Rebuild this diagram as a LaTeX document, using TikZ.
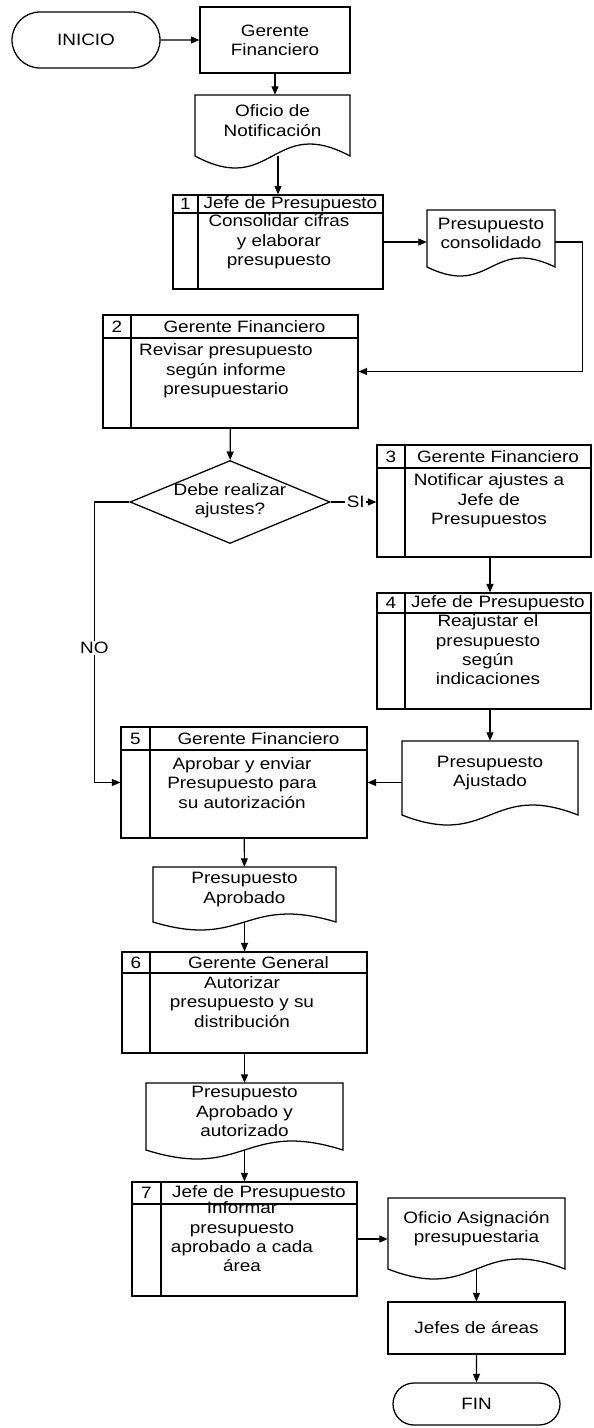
\documentclass[tikz,border=0pt]{standalone}
\usepackage{fontspec}
\setmainfont{Liberation Sans}[FakeStretch=1.15]
\usetikzlibrary{shapes.geometric,shapes.misc,arrows.meta,fit}

\newlength\pxl
\setlength\pxl{0.025cm}

% caja de paso: nombre, izq, arriba, der, abajo, linea cabecera, division, numero, responsable
\newcommand{\pasobox}[9]{%
  \node[borde, inner sep=0pt, fit={(#2,#3) (#4,#5)}] (#1) {};
  \draw[borde] (#2,#6) -- (#4,#6);
  \draw[borde] (#7,#3) -- (#7,#5);
  \node[texto] (#1-n) at ({(#2+#7)/2},{(#3+#6)/2}) {#8};
  \node[texto] (#1-r) at ({(#7+#4)/2},{(#3+#6)/2}) {#9};
}

% documento: nombre, izq, arriba, der, base de la onda, amplitud, texto
\newcommand{\documento}[7]{%
  \node[inner sep=0pt, fit={(#2,#3) (#4,#5)}] (#1) {};
  \draw[borde] (#2,#5) -- (#2,#3) -- (#4,#3) -- (#4,#5)
    .. controls ({(#2+#4)/2},{#5-3.46*#6}) and ({(#2+#4)/2},{#5+3.46*#6}) .. (#2,#5) -- cycle;
  \node[texto] (#1-t) at ([yshift=5\pxl]#1.center) {#7};
}

\begin{document}
\begin{tikzpicture}[
    x=\pxl, y=-\pxl,
    texto/.style={align=center, inner sep=0pt, font=\fontsize{11.7}{13.7}\selectfont},
    borde/.style={draw, line width=0.9pt},
    caja/.style={rectangle, borde, texto},
    terminal/.style={rounded rectangle, borde, texto},
    decision/.style={diamond, borde, inner sep=0pt, minimum width=200\pxl, minimum height=83\pxl},
    flecha/.style={-{Triangle[length=6pt, width=5pt]}, line width=0.8pt},
    etiqueta/.style={texto, fill=white, inner sep=1pt}
]
    \useasboundingbox (0,0) rectangle (593,1428);

    % Inicio
    \node[terminal, minimum width=148\pxl, minimum height=56\pxl] (inicio) at (86,40) {INICIO};
    \node[caja, minimum width=150\pxl, minimum height=66\pxl] (gf) at (275,40) {Gerente\\Financiero};
    \documento{oficio}{195}{95}{350}{156}{12}{Oficio de\\Notificación}

    % Pasos del proceso
    \pasobox{p1}{173}{195}{383}{289}{213}{198}{1}{Jefe de Presupuesto}
    \node[texto] (p1-c) at (279,242) {Consolidar cifras\\y elaborar\\presupuesto};
    \documento{cons}{427}{210}{555}{267}{9}{Presupuesto\\consolidado}

    \pasobox{p2}{103}{315}{358}{428}{338}{131}{2}{Gerente Financiero}
    \node[texto] (p2-c) at (226,371) {Revisar presupuesto\\según informe\\presupuestario};

    \node[decision] (dec) at (230,502) {};
    \node[texto] (dec-t) at (230,501) {Debe realizar\\ajustes?};

    \pasobox{p3}{377}{445}{591}{557}{468}{405}{3}{Gerente Financiero}
    \node[texto] (p3-c) at (489,501) {Notificar ajustes a\\Jefe de\\Presupuestos};

    \pasobox{p4}{377}{593}{591}{709}{613}{405}{4}{Jefe de Presupuesto}
    \node[texto] (p4-c) at (488,650) {Reajustar el\\presupuesto\\según\\indicaciones};
    \documento{aju}{402}{741}{578}{815}{10}{Presupuesto\\Ajustado}

    \pasobox{p5}{121}{727}{367}{838}{750}{150}{5}{Gerente Financiero}
    \node[texto] (p5-c) at (242,783) {Aprobar y enviar\\Presupuesto para\\su autorización};
    \documento{apr}{153}{867}{336}{922}{8}{Presupuesto\\Aprobado}

    \pasobox{p6}{122}{952}{367}{1053}{973}{150}{6}{Gerente General}
    \node[texto] (p6-c) at (242,1002) {Autorizar\\presupuesto y su\\distribución};
    \documento{aut}{146}{1083}{343}{1150}{9}{Presupuesto\\Aprobado y\\autorizado}

    \pasobox{p7}{132}{1182}{357}{1296}{1204}{161}{7}{Jefe de Presupuesto}
    \node[texto] (p7-c) at (242,1237) {Informar\\presupuesto\\aprobado a cada\\área};
    \documento{asig}{388}{1198}{565}{1269}{10}{Oficio Asignación\\presupuestaria}

    % Fin
    \node[caja, minimum width=177\pxl, minimum height=52\pxl] (jefes) at (476.5,1328) {Jefes de áreas};
    \node[terminal, minimum width=167\pxl, minimum height=42\pxl] (fin) at (476.5,1404) {FIN};

    % Conexiones
    \draw[flecha] (inicio) -- (gf);
    \draw[flecha] (gf.south) -- (gf.south |- oficio.north);
    \draw[flecha] (p1.north |- oficio.south) -- (p1.north);
    \draw[flecha] (p1.east) -- (p1.east -| cons.west);
    \draw[flecha] (cons.east |- p1.east) -- ++(27,0) |- (p2.east);
    \draw[flecha] (p2) -- (dec);
    \draw[flecha] (dec.east) -- node[etiqueta, pos=0.55] {SI} (dec.east -| p3.west);
    \draw[flecha] (dec.west) -- ++(-35,0) |- node[etiqueta, pos=0.26] {NO} (p5.west);
    \draw[flecha] (aju.north |- p3.south) -- (aju.north |- p4.north);
    \draw[flecha] (aju.north |- p4.south) -- (aju.north);
    \draw[flecha] (aju.west |- p5.east) -- (p5.east);
    \draw[flecha] (p5) -- (apr);
    \draw[flecha] (apr) -- (p6);
    \draw[flecha] (p6) -- (aut);
    \draw[flecha] (aut) -- (p7);
    \draw[flecha] (p7.east) -- (p7.east -| asig.west);
    \draw[flecha] (asig) -- (jefes);
    \draw[flecha] (jefes) -- (fin);
\end{tikzpicture}
\end{document}
